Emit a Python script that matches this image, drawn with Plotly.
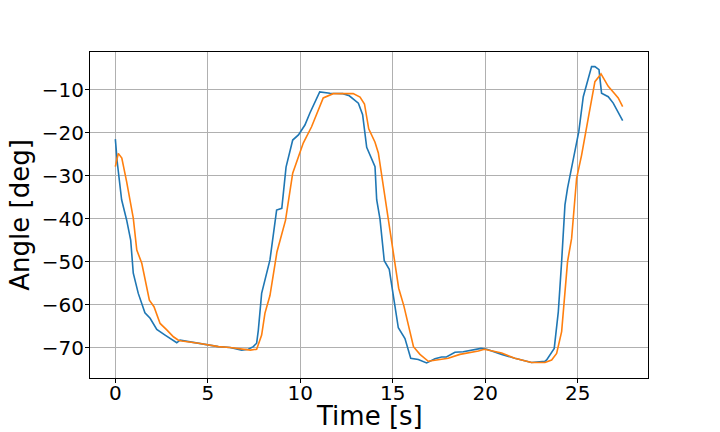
import plotly.graph_objects as go

# blue trace: measured angle
t_blue = [0.0, 0.11, 0.34, 0.61, 0.83, 0.97, 1.24, 1.6, 1.88, 2.24, 2.69, 3.14, 3.32, 3.5,
          4.5, 5.57, 6.2, 6.83, 7.19, 7.46, 7.64, 7.73, 7.91, 8.09, 8.36, 8.72, 9.0, 9.23,
          9.59, 9.9, 10.25, 10.52, 11.05, 11.6, 12.3, 12.65, 13.14, 13.37, 13.59, 14.04,
          14.13, 14.31, 14.54, 14.81, 15.3, 15.66, 15.97, 16.38, 16.83, 17.28, 17.64, 17.9,
          18.36, 18.81, 19.17, 19.44, 19.77, 20.08, 20.52, 20.89, 21.6, 22.5, 23.23, 23.32,
          23.73, 23.95, 24.13, 24.31, 24.45, 24.76, 25.06, 25.3, 25.75, 25.93, 26.15, 26.29,
          26.65, 26.92, 27.19, 27.43]
angle_blue = [-21.5, -27.1, -35.6, -40.3, -45.0, -52.7, -57.4, -61.9, -63.2, -65.8, -67.1, -68.5, -68.9, -68.3,
              -69.0, -69.8, -70.0, -70.6, -70.4, -69.8, -69.0, -66.0, -57.4, -54.3, -49.6, -38.0, -37.6, -28.0,
              -21.7, -20.5, -18.2, -15.4, -10.5, -10.8, -10.9, -11.4, -13.1, -15.8, -23.4, -27.9,
              -35.6, -40.1, -49.8, -51.8, -65.4, -67.9, -72.5, -72.8, -73.6, -72.6, -72.2, -72.2,
              -71.1, -71.0, -70.7, -70.6, -70.2, -70.4, -71.1, -71.6, -72.5, -73.5, -73.2, -72.9,
              -70.2, -61.7, -50.0, -36.8, -32.9, -25.9, -19.7, -11.6, -4.6, -4.6, -5.3, -10.8,
              -11.6, -13.1, -15.4, -17.2]

# orange trace: reference angle
t_orange = [0.0, 0.16, 0.35, 0.61, 0.97, 1.16, 1.43, 1.84, 2.09, 2.42, 2.78, 3.14, 3.41, 3.6,
            4.5, 5.57, 6.2, 6.9, 7.3, 7.64, 7.91, 8.09, 8.36, 8.74, 9.2, 9.59, 10.16, 10.61,
            11.24, 11.78, 12.86, 13.23, 13.47, 13.7, 14.04, 14.22, 14.7, 15.03, 15.32, 15.6,
            16.12, 16.47, 16.92, 17.37, 18.0, 18.63, 19.17, 19.63, 19.95, 20.17, 20.89, 21.6,
            22.5, 23.23, 23.59, 23.86, 24.13, 24.45, 24.67, 24.94, 25.21, 25.57, 25.93, 26.26,
            26.65, 27.01, 27.19, 27.43]
angle_orange = [-27.9, -24.8, -25.9, -31.4, -39.9, -47.3, -50.4, -59.0, -60.5, -64.4, -65.9, -67.5, -68.3, -68.5,
                -69.0, -69.8, -70.0, -70.3, -70.6, -70.4, -67.1, -62.0, -57.9, -47.7, -40.4, -29.4, -22.4, -18.6,
                -11.9, -10.9, -10.9, -11.7, -13.3, -19.1, -22.2, -24.7, -38.5, -48.1, -56.2, -60.3,
                -69.8, -71.6, -73.2, -72.9, -72.5, -71.6, -71.2, -70.8, -70.4, -70.6, -71.3, -72.5,
                -73.5, -73.5, -72.9, -71.4, -66.3, -50.0, -44.6, -30.6, -25.2, -16.6, -8.1, -6.3,
                -9.2, -11.0, -11.9, -13.9]

x_ticks = [0, 5, 10, 15, 20, 25]
y_ticks = [-70, -60, -50, -40, -30, -20, -10]

fig = go.Figure()
fig.add_trace(go.Scatter(x=t_blue, y=angle_blue, mode="lines",
                         line=dict(color="#1f77b4", width=1.6), showlegend=False))
fig.add_trace(go.Scatter(x=t_orange, y=angle_orange, mode="lines",
                         line=dict(color="#ff7f0e", width=1.6), showlegend=False))

axis_style = dict(
    showline=True,
    mirror=True,
    linecolor="black",
    linewidth=1,
    showgrid=True,
    gridcolor="#b0b0b0",
    gridwidth=1,
    zeroline=False,
    ticks="outside",
    ticklen=4,
    tickcolor="black",
    tickfont=dict(family="DejaVu Sans", size=20, color="black"),
    automargin=False,
)

fig.update_xaxes(axis_style, range=[-1.37, 28.8], tickvals=x_ticks, ticklabelstandoff=-7)
fig.update_yaxes(axis_style, range=[-77.1, -1.2], tickvals=y_ticks, ticklabelstandoff=-3)

title_font = dict(family="DejaVu Sans", size=26, color="black")
# axis titles placed as annotations so they sit where the reference has them
fig.add_annotation(text="Time [s]", xref="paper", yref="paper", x=0.5, y=-0.117,
                   xanchor="center", yanchor="middle", showarrow=False, font=title_font)
fig.add_annotation(text="Angle [deg]", xref="paper", yref="paper", x=-0.126, y=0.5,
                   xanchor="center", yanchor="middle", textangle=-90, showarrow=False,
                   font=title_font)

# page body adds an 8px offset, so the margins are shifted to compensate
fig.update_layout(
    width=720,
    height=432,
    autosize=False,
    margin=dict(l=82, r=80, t=44, b=62, pad=0),
    plot_bgcolor="white",
    paper_bgcolor="white",
)

fig.write_html("out.html")
